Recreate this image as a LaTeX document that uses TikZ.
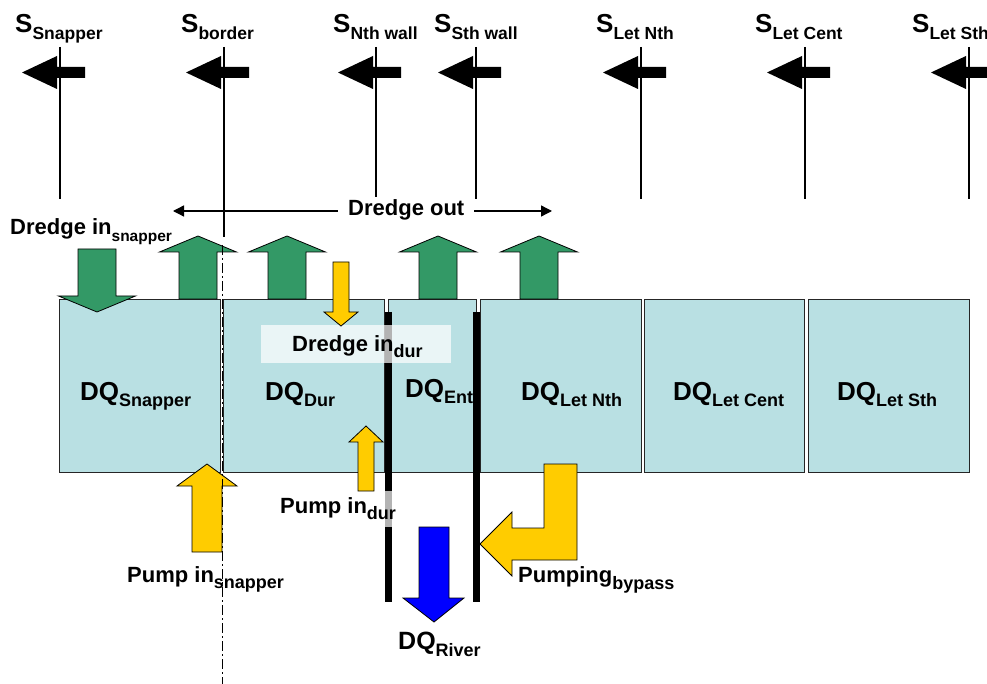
\documentclass[tikz,border=0pt]{standalone}
\usepackage{fontspec}
\setmainfont{Liberation Sans}
\usetikzlibrary{arrows.meta}
\definecolor{boxfill}{HTML}{B9E0E3}
\definecolor{dgreen}{HTML}{339966}
\definecolor{dyellow}{HTML}{FFCC00}
\definecolor{dblue}{HTML}{0000FF}
\newcommand{\lsub}[3]{\raisebox{-#1pt}{\fontsize{#2}{#2}\selectfont #3}}
\begin{document}
\begin{tikzpicture}[x=1pt,y=-1pt,
  lbl/.style={anchor=base west, inner sep=0pt, font=\bfseries\fontsize{22}{22}\selectfont},
  slbl/.style={anchor=base west, inner sep=0pt, font=\bfseries\fontsize{26}{26}\selectfont},
  dqlbl/.style={anchor=base west, inner sep=0pt, font=\bfseries\fontsize{26}{26}\selectfont},
  cell/.style={draw=black!85, line width=0.9pt, fill=boxfill, inner sep=0pt},
  sline/.style={line width=1.2pt},
  flowarrow/.style={draw=black, line width=0.8pt, line join=miter},
  wall/.style={line width=6.5pt},
  veil/.style={fill=white, fill opacity=0.7, draw=none},
  sarrow/.style={fill=black}
]
\useasboundingbox (0,0) rectangle (987,684);
\clip (0,0) rectangle (987,684);

% cells
\node[cell, minimum width=161pt, minimum height=173pt] (c1) at (139.5,385.5) {};
\node[cell, minimum width=161pt, minimum height=173pt] (c2) at (303.5,385.5) {};
\node[cell, minimum width=88pt, minimum height=173pt] (c3) at (432,385.5) {};
\node[cell, minimum width=161pt, minimum height=173pt] (c4) at (560.5,385.5) {};
\node[cell, minimum width=160pt, minimum height=173pt] (c5) at (724,385.5) {};
\node[cell, minimum width=161pt, minimum height=173pt] (c6) at (888.5,385.5) {};

% walls
\coordinate (w1t) at (388.5,312); \coordinate (w1b) at (388.5,602);
\coordinate (w2t) at (476.3,312); \coordinate (w2b) at (476.3,602);
\draw[wall] (w1t) -- (w1b);
\draw[wall] (w2t) -- (w2b);

% veils behind labels
\fill[veil] (261,325) rectangle (451,363);
\fill[veil] (272,491) rectangle (400,527);

% green dredge arrows
\filldraw[flowarrow, fill=dgreen] (78,249) -- (116,249) -- (116,296) -- (135.5,296) -- (97,312) -- (58.5,296) -- (78,296) -- cycle;
\foreach \c in {198,287,438,539}{
  \filldraw[flowarrow, fill=dgreen] (\c-19,299) -- (\c-19,252) -- (\c-38.5,252) -- (\c,236) -- (\c+38.5,252) -- (\c+19,252) -- (\c+19,299) -- cycle;
}

% yellow arrows
\filldraw[flowarrow, fill=dyellow] (333,262) -- (349,262) -- (349,312) -- (358,312) -- (341,326) -- (324,312) -- (333,312) -- cycle;
\filldraw[flowarrow, fill=dyellow] (358,491) -- (374,491) -- (374,442) -- (383,442) -- (366,426) -- (349,442) -- (358,442) -- cycle;
\filldraw[flowarrow, fill=dyellow] (192,552) -- (222,552) -- (222,486) -- (237,486) -- (207,464) -- (177,486) -- (192,486) -- cycle;
\filldraw[flowarrow, fill=dyellow] (544,464) -- (577,464) -- (577,560) -- (512,560) -- (512,576) -- (480,544) -- (512,512) -- (512,528) -- (544,528) -- cycle;

% blue river arrow
\filldraw[flowarrow, fill=dblue] (419,527) -- (449,527) -- (449,598) -- (464,598) -- (434,622) -- (403,598) -- (419,598) -- cycle;

% cell labels
\node[dqlbl] (l1) at (80,400) {DQ\lsub{6}{18}{Snapper}};
\node[dqlbl] (l2) at (265,400) {DQ\lsub{6}{18}{Dur}};
\node[dqlbl] (l3) at (405,397) {DQ\lsub{6}{18}{Ent}};
\node[dqlbl] (l4) at (521,400) {DQ\lsub{6}{18}{Let Nth}};
\node[dqlbl] (l5) at (673,400) {DQ\lsub{6}{18}{Let Cent}};
\node[dqlbl] (l6) at (837,400) {DQ\lsub{6}{18}{Let Sth}};

% flow labels
\node[lbl] (dis) at (10,235) {Dredge in\lsub{7}{15.5}{snapper}};
\node[lbl] (did) at (292,351) {Dredge in\lsub{6}{18}{dur}};
\node[lbl] (pid) at (280,513) {Pump in\lsub{6}{18}{dur}};
\node[lbl] (pis) at (127,582) {Pump in\lsub{6}{18}{snapper}};
\node[lbl] (pby) at (518,582) {Pumping\lsub{7}{18}{bypass}};
\node[lbl, font=\bfseries\fontsize{25}{25}\selectfont] (riv) at (398,649) {DQ\lsub{7}{18}{River}};

% section lines and S arrows
\foreach \L in {60,376,476,641,805,969}{
  \draw[sline] (\L,47) -- (\L,199);
}
\coordinate (bt) at (224,47); \coordinate (bb) at (224,237);
\draw[sline] (bt) -- (bb);
\foreach \L in {60,224,376,476,641,805,969}{
  \fill[sarrow] (\L+25,67) -- (\L-3,67) -- (\L-3,56) -- (\L-38,72.5) -- (\L-3,89) -- (\L-3,78) -- (\L+25,78) -- cycle;
}
\node[slbl] (s1) at (15,33) {S\lsub{7}{17.5}{Snapper}};
\node[slbl] (s2) at (181,33) {S\lsub{7}{17.5}{border}};
\node[slbl] (s3) at (333,33) {S\lsub{7}{17.5}{Nth wall}};
\node[slbl] (s4) at (434,33) {S\lsub{7}{17.5}{Sth wall}};
\node[slbl] (s5) at (596,33) {S\lsub{7}{17.5}{Let Nth}};
\node[slbl] (s6) at (755,33) {S\lsub{7}{17.5}{Let Cent}};
\node[slbl] (s7) at (912,33) {S\lsub{7}{17.5}{Let Sth}};

% dredge out
\coordinate (dl) at (173,211); \coordinate (dr) at (552,211);
\draw[line width=1.3pt, {Triangle[length=11pt,width=11pt]}-{Triangle[length=11pt,width=11pt]}] (dl) -- (dr);
\node[lbl, fill=white, inner xsep=10pt, inner ysep=3pt] (dout) at (338,216) {Dredge out};

% border dash-dot line
\coordinate (dt) at (222.5,245); \coordinate (db) at (222.5,684);
\draw[line width=1.2pt, dash pattern=on 10pt off 3pt on 2pt off 3pt] (dt) -- (db);
\end{tikzpicture}
\end{document}
